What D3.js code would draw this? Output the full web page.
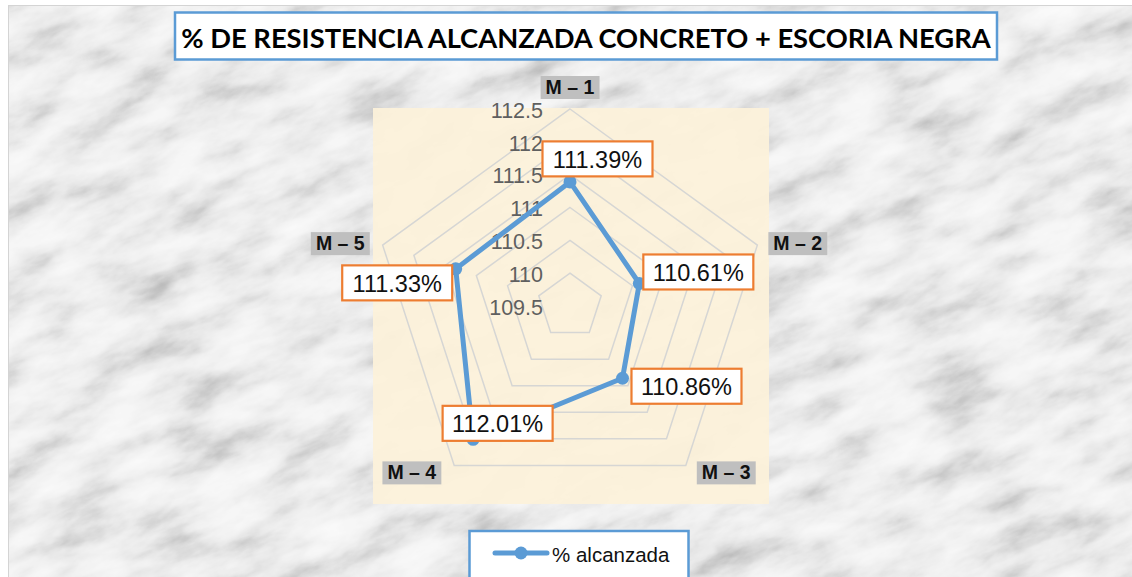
<!DOCTYPE html>
<html>
<head>
<meta charset="utf-8">
<script src="https://cdn.jsdelivr.net/npm/d3@7"></script>
<style>
  html, body { margin: 0; padding: 0; background: #fff; }
  svg { display: block; }
</style>
</head>
<body>
<svg id="chart" width="1132" height="577"></svg>
<script>
// data
const title = "% DE RESISTENCIA ALCANZADA CONCRETO + ESCORIA NEGRA";
const seriesName = "% alcanzada";
const categories = ["M – 1", "M – 2", "M – 3", "M – 4", "M – 5"];
const values = [111.39, 110.61, 110.86, 112.01, 111.33];
const tickValues = [109.5, 110, 110.5, 111, 111.5, 112, 112.5];

const width = 1132;
const height = 577;
const cx = 570, cy = 306, outerRadius = 197;
const blue = "#5b9bd5";
const orange = "#ed7d31";

const svg = d3.select("#chart");
const defs = svg.append("defs");

drawBackground();
const rScale = d3.scaleLinear().domain(d3.extent(tickValues)).range([0, outerRadius]);
const angle = i => i * 2 * Math.PI / categories.length;
const bounds = svg.append("g").attr("transform", `translate(${cx}, ${cy})`);
drawGrid();
drawCategoryLabels();
drawSeries();
drawTitle();
drawLegend();

function drawBackground() {
  // marble-ish texture, made with svg turbulence
  const f = defs.append("filter").attr("id", "marble")
    .attr("x", 0).attr("y", 0).attr("width", "100%").attr("height", "100%");
  f.append("feTurbulence")
    .attr("type", "fractalNoise")
    .attr("baseFrequency", "0.014 0.034")
    .attr("numOctaves", 5)
    .attr("seed", 11)
    .attr("result", "n");
  f.append("feColorMatrix")
    .attr("type", "matrix")
    .attr("values", "1 0 0 0 0  1 0 0 0 0  1 0 0 0 0  0 0 0 0 1");
  f.append("feComponentTransfer")
    .call(ct => ["feFuncR", "feFuncG", "feFuncB"].forEach(fn =>
      ct.append(fn).attr("type", "table")
        .attr("tableValues", "0.45 0.57 0.7 0.81 0.88 0.92 0.95 0.97")));

  defs.append("clipPath").attr("id", "chartClip")
    .append("rect").attr("x", 8).attr("y", 5).attr("width", width - 8).attr("height", height - 5);

  svg.append("g").attr("clip-path", "url(#chartClip)")
    .append("rect")
    .attr("x", -400).attr("y", -600)
    .attr("width", 2000).attr("height", 1800)
    .attr("transform", "rotate(-22 566 288)")
    .attr("filter", "url(#marble)");

  svg.append("rect")
    .attr("x", 8.5).attr("y", 5.5)
    .attr("width", width).attr("height", height)
    .attr("fill", "none")
    .attr("stroke", "#d4d4d4");

  // plot area
  svg.append("rect")
    .attr("x", 373).attr("y", 108)
    .attr("width", 396).attr("height", 396)
    .attr("fill", "#fcf1da")
    .attr("opacity", 0.94);
}

function drawGrid() {
  const ring = d3.lineRadial()
    .angle((d, i) => angle(i))
    .radius(d => d)
    .curve(d3.curveLinearClosed);

  bounds.selectAll(".ring")
    .data(tickValues.slice(1))
    .join("path")
    .attr("class", "ring")
    .attr("d", t => ring(categories.map(() => rScale(t))))
    .attr("fill", "none")
    .attr("stroke", "#d6d6d4")
    .attr("stroke-width", 1.5);

  bounds.selectAll(".tick")
    .data(tickValues)
    .join("text")
    .attr("class", "tick")
    .attr("x", -27)
    .attr("y", t => -rScale(t) + 3)
    .attr("text-anchor", "end")
    .attr("dominant-baseline", "middle")
    .attr("font-family", "Liberation Sans, Arial, sans-serif")
    .attr("font-size", 21.5)
    .attr("fill", "#5f5f5f")
    .text(t => t);
}

function drawCategoryLabels() {
  const g = bounds.selectAll(".cat")
    .data(categories)
    .join("g")
    .attr("class", "cat");

  g.each(function(name, i) {
    const a = angle(i);
    const s = Math.sin(a), c = Math.cos(a);
    const vx = outerRadius * s, vy = -outerRadius * c;
    let x = vx, y = vy, anchor = "middle";
    if (Math.abs(s) < 0.1) { y = vy - 22; }
    else {
      anchor = s > 0 ? "start" : "end";
      x = vx + (s > 0 ? 16 : -18);
      y = vy + (c < 0 ? 7 : -2);
    }
    const node = d3.select(this);
    const box = node.append("rect").attr("fill", "#bfbfbf");
    const text = node.append("text")
      .attr("x", x).attr("y", y)
      .attr("text-anchor", anchor)
      .attr("dominant-baseline", "central")
      .attr("font-family", "Liberation Sans, Arial, sans-serif")
      .attr("font-weight", "bold")
      .attr("font-size", 19.5)
      .attr("fill", "#111")
      .text(name);
    const bb = text.node().getBBox();
    box.attr("x", bb.x - 5).attr("y", bb.y)
      .attr("width", bb.width + 10).attr("height", bb.height + 1);
  });
}

function drawSeries() {
  const points = values.map((v, i) => [rScale(v) * Math.sin(angle(i)), -rScale(v) * Math.cos(angle(i))]);

  bounds.append("path")
    .attr("d", d3.line().curve(d3.curveLinearClosed)(points))
    .attr("fill", "none")
    .attr("stroke", blue)
    .attr("stroke-width", 5)
    .attr("stroke-linejoin", "round");

  bounds.selectAll(".dot")
    .data(points)
    .join("circle")
    .attr("class", "dot")
    .attr("cx", d => d[0])
    .attr("cy", d => d[1])
    .attr("r", 6.5)
    .attr("fill", blue);

  // label box centre relative to its point
  const labelOffsets = [[27.5, -23], [59, -11.5], [64, 8], [24.5, -16], [-58.5, 14]];
  const fmt = v => d3.format(".2f")(v) + "%";
  const labels = bounds.selectAll(".lbl")
    .data(points)
    .join("g")
    .attr("class", "lbl")
    .attr("transform", (d, i) => `translate(${d[0] + labelOffsets[i][0]}, ${d[1] + labelOffsets[i][1]})`);

  labels.append("rect")
    .attr("x", -55).attr("y", -17.5)
    .attr("width", 110).attr("height", 35)
    .attr("fill", "#fff")
    .attr("stroke", orange)
    .attr("stroke-width", 2.2);

  labels.append("text")
    .attr("text-anchor", "middle")
    .attr("dominant-baseline", "central")
    .attr("y", 1)
    .attr("font-family", "Liberation Sans, Arial, sans-serif")
    .attr("font-size", 23.5)
    .attr("fill", "#111")
    .text((d, i) => fmt(values[i]));
}

function drawTitle() {
  svg.append("rect")
    .attr("x", 175).attr("y", 12.5)
    .attr("width", 822).attr("height", 47)
    .attr("fill", "#fff")
    .attr("stroke", blue)
    .attr("stroke-width", 2.5);

  const t = svg.append("text")
    .attr("x", 586).attr("y", 37)
    .attr("text-anchor", "middle")
    .attr("dominant-baseline", "central")
    .attr("font-family", "Lato, Open Sans, sans-serif")
    .attr("font-weight", "bold")
    .attr("font-size", 28)
    .attr("fill", "#000")
    .text(title);
  const w = t.node().getComputedTextLength();
  t.attr("font-size", 28 * 810 / w);
}

function drawLegend() {
  svg.append("rect")
    .attr("x", 469.5).attr("y", 531)
    .attr("width", 219).attr("height", 50)
    .attr("fill", "#fff")
    .attr("stroke", blue)
    .attr("stroke-width", 2.5);

  svg.append("line")
    .attr("x1", 495).attr("x2", 547)
    .attr("y1", 553).attr("y2", 553)
    .attr("stroke", blue)
    .attr("stroke-width", 5)
    .attr("stroke-linecap", "round");

  svg.append("circle")
    .attr("cx", 521).attr("cy", 553).attr("r", 6.5)
    .attr("fill", blue);

  svg.append("text")
    .attr("x", 552).attr("y", 554)
    .attr("dominant-baseline", "central")
    .attr("font-family", "Liberation Sans, Arial, sans-serif")
    .attr("font-size", 20.5)
    .attr("fill", "#111")
    .text(seriesName);
}
</script>
</body>
</html>
